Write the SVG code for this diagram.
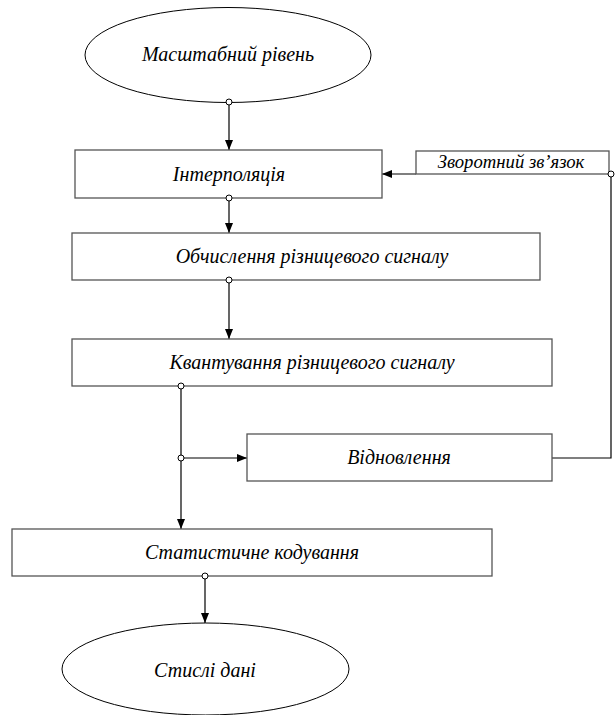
<svg xmlns="http://www.w3.org/2000/svg" width="615" height="715" viewBox="0 0 615 715">
<style>
.box{fill:#fff;stroke:#555;stroke-width:1.3}
.ell{fill:#fff;stroke:#000;stroke-width:1}
.c{fill:none;stroke:#000;stroke-width:1.2}
.dot{fill:#fff;stroke:#000;stroke-width:1}
</style>
<defs>
<marker id="ah" markerUnits="userSpaceOnUse" markerWidth="10" markerHeight="10" viewBox="0 0 10 10" refX="10" refY="5" orient="auto">
<path d="M0,1 L10,5 L0,9 Z" fill="#000"/>
</marker>
</defs>
<g id="connectors">
<path class="c" d="M229,105 V150" marker-end="url(#ah)"/>
<path class="c" d="M229,201 V233" marker-end="url(#ah)"/>
<path class="c" d="M229,283 V339" marker-end="url(#ah)"/>
<path class="c" d="M181,389 V529" marker-end="url(#ah)"/>
<path class="c" d="M184,458 H247" marker-end="url(#ah)"/>
<path class="c" d="M552,458 H611 V177"/>
<path class="c" d="M416,174 H382" marker-end="url(#ah)"/>
<path class="c" d="M205,579 V623" marker-end="url(#ah)"/>
</g>
<g font-family="'Liberation Serif', 'Times New Roman', serif" font-style="italic" font-size="20" fill="#000" text-anchor="middle">
<g id="n_masshtab">
<ellipse class="ell" cx="228" cy="55" rx="143" ry="47.5"/>
<text x="228" y="61">Масштабний рівень</text>
</g>
<g id="n_interp">
<rect class="box" x="75" y="150" width="307" height="48"/>
<text x="229" y="181">Інтерполяція</text>
</g>
<g id="n_feedback">
<rect class="box" x="416" y="151" width="193" height="23"/>
<text x="511" y="168" font-size="18.7">Зворотний зв’язок</text>
</g>
<g id="n_obch">
<rect class="box" x="72" y="233" width="468" height="47"/>
<text x="312" y="263">Обчислення різницевого сигналу</text>
</g>
<g id="n_kvant">
<rect class="box" x="72" y="339" width="480" height="47"/>
<text x="312" y="369">Квантування різницевого сигналу</text>
</g>
<g id="n_vidn">
<rect class="box" x="247" y="434" width="305" height="47"/>
<text x="399" y="464">Відновлення</text>
</g>
<g id="n_stat">
<rect class="box" x="12" y="529" width="480" height="47"/>
<text x="252" y="559">Статистичне кодування</text>
</g>
<g id="n_stysli">
<ellipse class="ell" cx="205.5" cy="669" rx="143.5" ry="46"/>
<text x="205" y="677">Стислі дані</text>
</g>
</g>
<g id="dots">
<circle class="dot" cx="229" cy="102" r="3"/>
<circle class="dot" cx="229" cy="198" r="3"/>
<circle class="dot" cx="229" cy="280" r="3"/>
<circle class="dot" cx="181" cy="386" r="3"/>
<circle class="dot" cx="181" cy="458" r="3"/>
<circle class="dot" cx="611" cy="174" r="3"/>
<circle class="dot" cx="205" cy="576" r="3"/>
</g>
</svg>
